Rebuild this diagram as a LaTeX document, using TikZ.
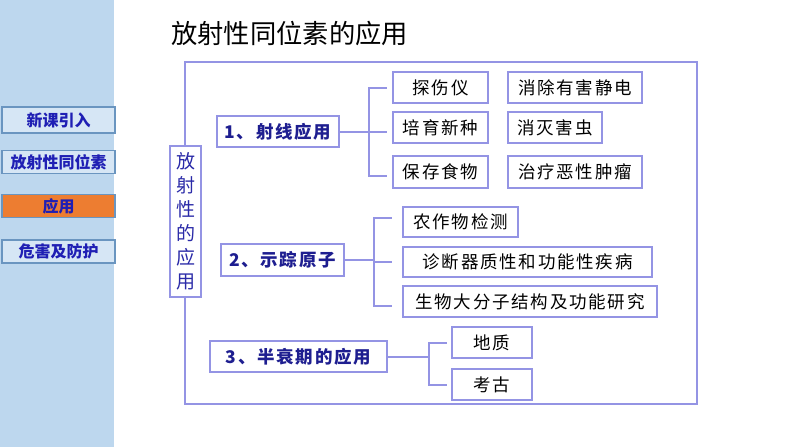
\documentclass[tikz,border=0pt]{standalone}
\usepackage{fontspec}
\setmainfont{Noto Sans CJK SC}
\newfontfamily\kai[LetterSpace=10]{Noto Sans CJK SC}
\definecolor{sidebar}{HTML}{BDD7EE}
\definecolor{btnfill}{HTML}{D6E6F5}
\definecolor{btnline}{HTML}{6A95C0}
\definecolor{orangebtn}{HTML}{ED7D31}
\definecolor{navtext}{HTML}{1F1FB4}
\definecolor{lav}{HTML}{9494E4}
\definecolor{navy}{HTML}{1E1E90}
\definecolor{vblue}{HTML}{2A2AA8}
\tikzset{
  btn/.style={draw=btnline, line width=1.5pt, fill=btnfill, minimum width=113pt, minimum height=23pt, inner sep=0pt,
    font=\fontsize{16}{18}\selectfont\bfseries, text=navtext},
  lvone/.style={draw=lav, line width=1.5pt, fill=white, inner sep=0pt, minimum height=31pt,
    font=\kai\fontsize{17.5}{19}\selectfont\bfseries, text=navy},
  lvtwo/.style={draw=lav, line width=1.5pt, fill=white, inner sep=0pt, minimum height=31pt,
    font=\kai\fontsize{17.5}{19}\selectfont, text=black},
  conn/.style={draw=lav, line width=2pt},
}
\begin{document}
\begin{tikzpicture}[x=1pt,y=-1pt]
\useasboundingbox (0,0) rectangle (794,447);
\fill[white] (0,0) rectangle (794,447);
\fill[sidebar] (0,0) rectangle (114,447);
% sidebar buttons
\node[btn, minimum height=26pt] (b1) at (58.5,120) {新课引入};
\node[btn] (b2) at (58.5,162) {放射性同位素};
\node[btn, fill=orangebtn, draw=btnline] (b3) at (58.5,206) {应用};
\node[btn] (b4) at (58.5,251.5) {危害及防护};
% title
\node[anchor=west, inner sep=0pt, font=\fontsize{26.3}{28}\selectfont] (title) at (171,33) {放射性同位素的应用};
% outer frame
\draw[conn] (185,62) rectangle (697,404);
\node[draw=lav, line width=1.5pt, fill=white, minimum width=31pt, minimum height=151pt, inner sep=0pt,
  align=center, font=\fontsize{19}{24}\selectfont, text=vblue] (v) at (185.5,221.5) {放\\射\\性\\的\\应\\用};
% level one
\node[lvone, minimum width=122pt] (r1) at (278,131.5) {1、射线应用};
\node[lvone, minimum width=123pt, minimum height=32pt] (r2) at (282.5,260) {2、示踪原子};
\node[lvone, minimum width=177pt] (r3) at (298.5,356.5) {3、半衰期的应用};
% group 1
\node[lvtwo, minimum width=95pt] (a1) at (440.5,87.5) {探伤仪};
\node[lvtwo, minimum width=95pt] (a2) at (440.5,127.5) {培育新种};
\node[lvtwo, minimum width=95pt, minimum height=32pt] (a3) at (440.5,172) {保存食物};
\node[lvtwo, minimum width=134pt] (c1) at (575,87.5) {消除有害静电};
\node[lvtwo, minimum width=94pt] (c2) at (555,127.5) {消灭害虫};
\node[lvtwo, minimum width=134pt, minimum height=32pt] (c3) at (575,172) {治疗恶性肿瘤};
% group 2
\node[lvtwo, minimum width=115pt, minimum height=30pt] (t1) at (460.5,222) {农作物检测};
\node[lvtwo, minimum width=249pt, minimum height=30pt] (t2) at (527.5,262) {诊断器质性和功能性疾病};
\node[lvtwo, minimum width=254pt] (t3) at (530,301.5) {生物大分子结构及功能研究};
% group 3
\node[lvtwo, minimum width=80pt] (g1) at (492,342.5) {地质};
\node[lvtwo, minimum width=80pt] (g2) at (492,384.5) {考古};
% connectors group 1
\coordinate (j1) at (369,131.5);
\draw[conn, shorten >=5pt] (r1.east) -- (r1.east -| a2.west);
\draw[conn, shorten >=5pt] (j1) |- (a1.west);
\draw[conn, shorten >=5pt] (j1) |- ([yshift=-4pt]a3.west);
% connectors group 2
\coordinate (j2) at (374,260);
\draw[conn] (r2.east) -- (j2);
\draw[conn, shorten >=10pt] (j2) |- ([yshift=4pt]t1.west);
\draw[conn, shorten >=10pt] (j2) |- (t2.west);
\draw[conn, shorten >=10pt] (j2) |- ([yshift=-4pt]t3.west);
% connectors group 3
\coordinate (j3) at (429,356.5);
\draw[conn] (r3.east) -- (j3);
\draw[conn, shorten >=4pt] (j3) |- (g1.west);
\draw[conn, shorten >=4pt] (j3) |- (g2.west);
\end{tikzpicture}
\end{document}
